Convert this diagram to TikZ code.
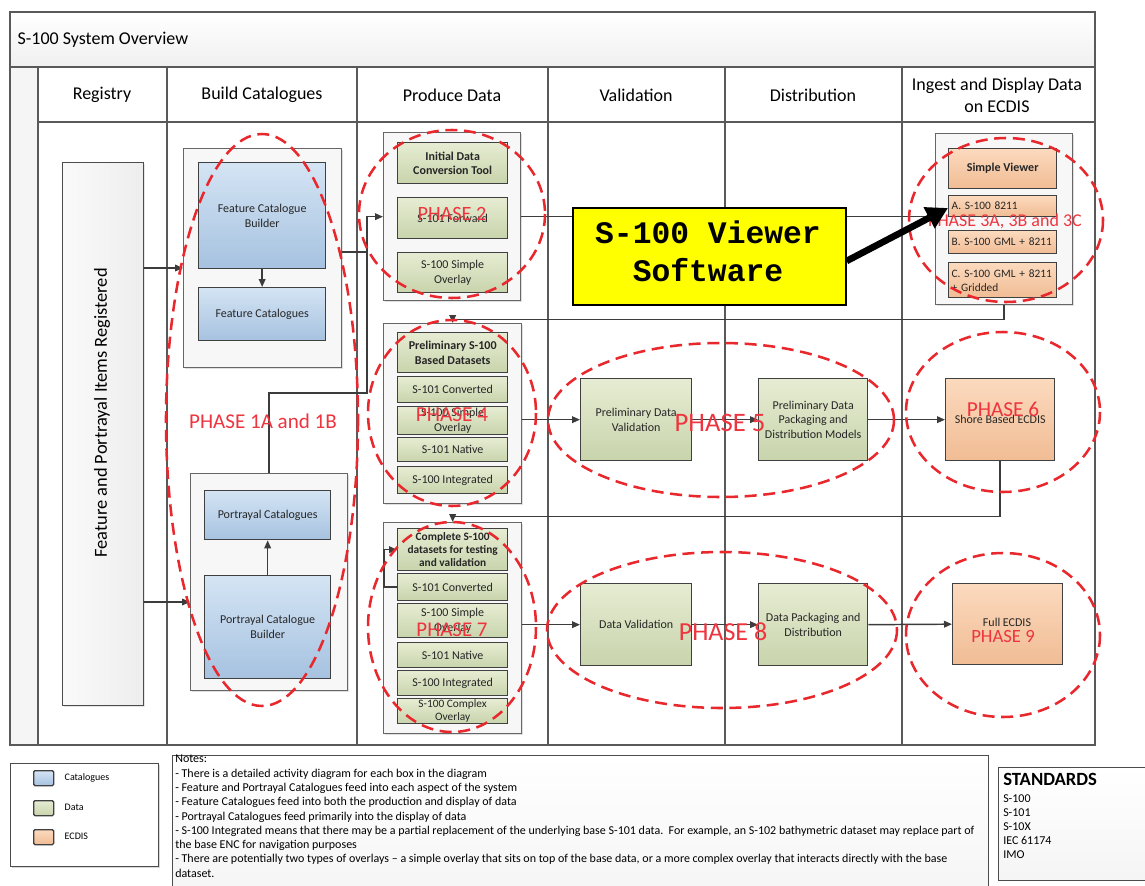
\documentclass[tikz,border=0pt]{standalone}
\usepackage{fontspec}
\setmainfont{Carlito}
\newfontfamily\monob{Liberation Mono}
\usetikzlibrary{arrows.meta,shadows}
\definecolor{catT}{RGB}{212,228,244}
\definecolor{catB}{RGB}{166,194,224}
\definecolor{datT}{RGB}{230,236,210}
\definecolor{datB}{RGB}{200,212,172}
\definecolor{ecT}{RGB}{252,218,190}
\definecolor{ecB}{RGB}{240,188,148}
\definecolor{linecol}{RGB}{60,60,60}
\definecolor{phred}{RGB}{232,40,45}
\definecolor{phtext}{RGB}{238,52,62}
\definecolor{yel}{RGB}{255,255,0}
\tikzset{
  wh/.style 2 args={minimum width=#1*0.75pt, minimum height=#2*0.75pt},
  basebox/.style={anchor=north west, inner sep=1pt, align=center, font=\fontsize{9}{11}\selectfont, text=black!85},
  catbox/.style={basebox, draw=black!75, line width=1pt, top color=catT, bottom color=catB},
  databox/.style={basebox, draw=black!75, line width=1pt, top color=datT, bottom color=datB},
  ecbox/.style={basebox, draw=black!75, line width=1pt, top color=ecT, bottom color=ecB},
  boldtxt/.style={font=\fontsize{9}{11}\selectfont\bfseries},
  cont/.style={anchor=north west, draw=black!60, line width=1pt, fill=gray!6, drop shadow={opacity=0.25, shadow xshift=1.2pt, shadow yshift=-1.2pt}},
  conn/.style={draw=linecol, line width=1.1pt},
  arr/.style={conn, -{Triangle[length=6pt,width=5pt]}},
  phase/.style={draw=phred, line width=1.9pt, dash pattern=on 9pt off 5pt},
  phlab/.style={text=phtext},
  hdr/.style={font=\fontsize{13.5}{16}\selectfont, align=center},
  frame/.style={draw=black!65, line width=1pt},
}
\begin{document}
\begin{tikzpicture}[x=0.75pt,y=-0.75pt]
\useasboundingbox (0,0) rectangle (1145,885);
\clip (0,0) rectangle (1145,885);
% ---------- frame ----------
\fill[top color=white, bottom color=gray!12] (10,12) rectangle (1095,67);
\fill[gray!8] (10,67) rectangle (38,745);
\draw[frame] (10,12) rectangle (1095,745);
\draw[frame] (10,67) -- (1095,67);
\draw[frame] (38,122) -- (1095,122);
\foreach \xx in {38,167,357,548,725,902} {\draw[frame] (\xx,67) -- (\xx,745);}
\node[anchor=west, font=\fontsize{13.5}{16}\selectfont] (title) at (13,40) {S-100 System Overview};
\node[hdr] (h1) at (102,95) {Registry};
\node[hdr] (h2) at (262,95) {Build Catalogues};
\node[hdr] (h3) at (452,95) {Produce Data};
\node[hdr] (h4) at (636,95) {Validation};
\node[hdr] (h5) at (813,95) {Distribution};
\node[hdr, font=\fontsize{13.5}{16.5}\selectfont] (h6) at (997,95) {Ingest and Display Data\\on ECDIS};
% ---------- registry ----------
\node[anchor=north west, draw=black!70, line width=1pt, left color=gray!4, right color=gray!14, wh={81}{543}, drop shadow={opacity=0.2, shadow xshift=1pt, shadow yshift=-1pt}] (reg) at (62,162) {};
\node[rotate=90, font=\fontsize{13.8}{16}\selectfont] (regt) at (102,413) {Feature and Portrayal Items Registered};
% ---------- build catalogues ----------
\node[cont, wh={158}{219}] (fcont) at (183,148) {};
\node[catbox, wh={127}{106}] (fcb) at (198,162) {Feature Catalogue\\Builder};
\node[catbox, wh={127}{53}] (fc) at (198,287) {Feature Catalogues};
\node[cont, wh={157}{217}] (pcont) at (190,473) {};
\node[catbox, wh={126}{49}] (pc) at (204,490) {Portrayal Catalogues};
\node[catbox, wh={126}{103}] (pcb) at (204,575) {Portrayal Catalogue\\Builder};
\draw[arr] (fcb) -- (fc);
\draw[arr] (pcb) -- (pc);
\draw[arr] (reg.east |- 0,268) -- (fcont.west |- 0,268);
\draw[arr] (reg.east |- 0,602) -- (pcont.west |- 0,602);
% ---------- produce data: phase 2 ----------
\node[cont, wh={137}{168}] (p2cont) at (383,132) {};
\node[databox, boldtxt, wh={110}{41}] (idct) at (397,142) {Initial Data\\Conversion Tool};
\node[databox, wh={110}{41}] (fwd) at (397,197) {S-101 Forward};
\node[databox, wh={110}{40}] (so1) at (397,252) {S-100 Simple\\Overlay};
\coordinate (j1) at (367,252);
\coordinate (j2) at (367,393);
\draw[conn] (fcont.east |- j1) -- (j1);
\draw[conn] (pcont.north) |- (j2) -- (j1);
\draw[arr] (j1) |- (p2cont.west);
% ---------- ingest: phase 3 ----------
\node[cont, wh={137}{171}] (icont) at (935,133) {};
\node[ecbox, boldtxt, wh={108}{40}] (sv) at (948,148) {Simple Viewer};
\node[ecbox, wh={108}{21}, align=left, text width=102*0.75pt, font=\fontsize{8.5}{10}\selectfont] (ba) at (948,195) {A. S-100 8211};
\node[ecbox, wh={108}{23}, align=left, text width=102*0.75pt, font=\fontsize{8.5}{10}\selectfont] (bb) at (948,230) {B. S-100 GML + 8211};
\node[ecbox, wh={108}{35}, align=left, text width=102*0.75pt, font=\fontsize{8.5}{10.5}\selectfont] (bc) at (948,262) {C. S-100 GML + 8211\\+ Gridded};
\draw[arr] (p2cont.east) -- (icont.west |- p2cont.east);
% ---------- phase 4 ----------
\node[cont, wh={138}{180}] (p4cont) at (383,323) {};
\node[databox, boldtxt, wh={110}{40}] (pre) at (397,332) {Preliminary S-100\\Based Datasets};
\node[databox, wh={110}{26}] (c1) at (397,376) {S-101 Converted};
\node[databox, wh={110}{27}] (so4) at (397,406) {S-100 Simple\\Overlay};
\node[databox, wh={110}{24}] (n1) at (397,437) {S-101 Native};
\node[databox, wh={110}{27}] (i1) at (397,466) {S-100 Integrated};
\draw[arr] (icont.south) -- ++(0,14) -| (p4cont.north);
\node[databox, wh={111}{82}] (pdv) at (580,378) {Preliminary Data\\Validation};
\node[databox, wh={109}{82}] (pdp) at (758,378) {Preliminary Data\\Packaging and\\Distribution Models};
\node[ecbox, wh={109}{82}] (shore) at (945,378) {Shore Based ECDIS};
\draw[arr] (p4cont.east |- pdv.west) -- (pdv.west);
\draw[arr] (pdv.east) -- (pdp.west);
\draw[arr] (pdp.east) -- (shore.west);
% ---------- phase 7 ----------
\node[cont, wh={138}{211}] (p7cont) at (383,522) {};
\node[databox, wh={110}{42}, inner sep=0pt, font=\fontsize{8.5}{9.6}\selectfont\bfseries] (comp) at (397,528) {Complete S-100\\datasets for testing\\and validation};
\node[databox, wh={110}{27}] (c2) at (397,573) {S-101 Converted};
\node[databox, wh={110}{34}] (so7) at (397,603) {S-100 Simple\\Overlay};
\node[databox, wh={110}{25}] (n2) at (397,642) {S-101 Native};
\node[databox, wh={110}{25}] (i2) at (397,670) {S-100 Integrated};
\node[databox, wh={110}{25}, inner sep=0pt, font=\fontsize{8.5}{9.5}\selectfont] (co2) at (397,698) {S-100 Complex\\Overlay};
\draw[arr] (c2.west) -- ++(-13,0) |- (comp.west);
\draw[arr] (shore.south) -- ++(0,55) -| (p7cont.north);
\node[databox, wh={111}{82}] (dv) at (580,583) {Data Validation};
\node[databox, wh={109}{82}] (dpd) at (758,583) {Data Packaging and\\Distribution};
\node[ecbox, wh={110}{81}] (fe) at (952,583) {};
\node[font=\fontsize{9}{11}\selectfont, text=black!85] (fet) at (1007,622) {Full ECDIS};
\draw[arr] (p7cont.east |- dv.west) -- (dv.west);
\draw[arr] (dv.east) -- (dpd.west);
\draw[arr] (dpd.east) -- (fe.west);
% ---------- phase ellipses ----------
\draw[phase] (262,420) ellipse [x radius=96, y radius=286];
\draw[phase] (452,214) ellipse [x radius=93, y radius=84];
\draw[phase] (1006,220) ellipse [x radius=97, y radius=82];
\draw[phase] (452,413) ellipse [x radius=84, y radius=93];
\draw[phase] (721,420) ellipse [x radius=173, y radius=77];
\draw[phase] (1003,412) ellipse [x radius=97, y radius=80];
\draw[phase] (452,627) ellipse [x radius=84, y radius=105];
\draw[phase] (722,630) ellipse [x radius=175, y radius=78];
\draw[phase] (1003,635) ellipse [x radius=97, y radius=82];
\node[phlab, font=\fontsize{15.8}{18}\selectfont] (ph1) at (263,421) {PHASE 1A and 1B};
\node[phlab, font=\fontsize{15.2}{17}\selectfont] (ph2) at (452,214) {PHASE 2};
\node[phlab, font=\fontsize{13.5}{15}\selectfont] (ph3) at (1005,221) {PHASE 3A, 3B and 3C};
\node[phlab, font=\fontsize{16}{18}\selectfont] (ph4) at (452,415) {PHASE 4};
\node[phlab, font=\fontsize{20}{22}\selectfont] (ph5) at (720,423) {PHASE 5};
\node[phlab, font=\fontsize{16}{18}\selectfont] (ph6) at (1003,409) {PHASE 6};
\node[phlab, font=\fontsize{15.7}{18}\selectfont] (ph7) at (452,630) {PHASE 7};
\node[phlab, font=\fontsize{19.5}{22}\selectfont] (ph8) at (723,632) {PHASE 8};
\node[phlab, font=\fontsize{14}{16}\selectfont] (ph9) at (1003,636) {PHASE 9};
% ---------- yellow callout ----------
\node[anchor=north west, draw=black, line width=1.2pt, fill=yel, wh={273}{97}] (yb) at (572,207) {};
\node[align=center, font=\monob\bfseries\fontsize{23.5}{28.5}\selectfont] (ybt) at (708,251) {S-100 Viewer\\Software};
\coordinate (tip) at (948,208);
\draw[line width=5pt, black, -{Triangle[length=16pt,width=17pt]}] (yb.east |- 0,261) -- (tip);
% ---------- legend ----------
\node[anchor=north west, draw=black!70, line width=1pt, fill=white, wh={148}{103}, drop shadow={opacity=0.3, shadow xshift=1pt, shadow yshift=-1pt}] (leg) at (10,763) {};
\node[anchor=north west, draw=black!75, line width=1pt, rounded corners=1pt, top color=catT, bottom color=catB, wh={20}{15}] (lc) at (33,770) {};
\node[anchor=north west, draw=black!75, line width=1pt, rounded corners=1pt, top color=datT, bottom color=datB, wh={20}{15}] (ld) at (33,800) {};
\node[anchor=north west, draw=black!75, line width=1pt, rounded corners=1pt, top color=ecT, bottom color=ecB, wh={20}{15}] (le) at (33,829) {};
\node[anchor=west, font=\fontsize{7.5}{9}\selectfont] (lct) at (60,778) {Catalogues};
\node[anchor=west, font=\fontsize{7.5}{9}\selectfont] (ldt) at (60,807) {Data};
\node[anchor=west, font=\fontsize{7.5}{9}\selectfont] (let) at (60,836) {ECDIS};
% ---------- notes ----------
\node[anchor=north west, draw=black!70, line width=1pt, top color=white, bottom color=gray!8, wh={816}{140}] (notes) at (172,755) {};
\node[anchor=north west, inner sep=0pt, align=left, font=\fontsize{9}{10.7}\selectfont] (notest) at (175,755) {Notes:\\
- There is a detailed activity diagram for each box in the diagram\\
- Feature and Portrayal Catalogues feed into each aspect of the system\\
- Feature Catalogues feed into both the production and display of data\\
- Portrayal Catalogues feed primarily into the display of data\\
- S-100 Integrated means that there may be a partial replacement of the underlying base S-101 data.\ \ For example, an S-102 bathymetric dataset may replace part of\\
the base ENC for navigation purposes\\
- There are potentially two types of overlays -- a simple overlay that sits on top of the base data, or a more complex overlay that interacts directly with the base\\
dataset.};
% ---------- standards ----------
\node[anchor=north west, draw=black!70, line width=1pt, top color=white, bottom color=gray!8, wh={160}{113}] (std) at (998,767) {};
\node[anchor=north west, inner sep=0pt, font=\fontsize{14}{16}\selectfont\bfseries] (stdt) at (1003,773) {STANDARDS};
\node[anchor=north west, inner sep=0pt, align=left, font=\fontsize{9}{10.5}\selectfont] (stdl) at (1003,794) {S-100\\S-101\\S-10X\\IEC 61174\\IMO};
\end{tikzpicture}
\end{document}
